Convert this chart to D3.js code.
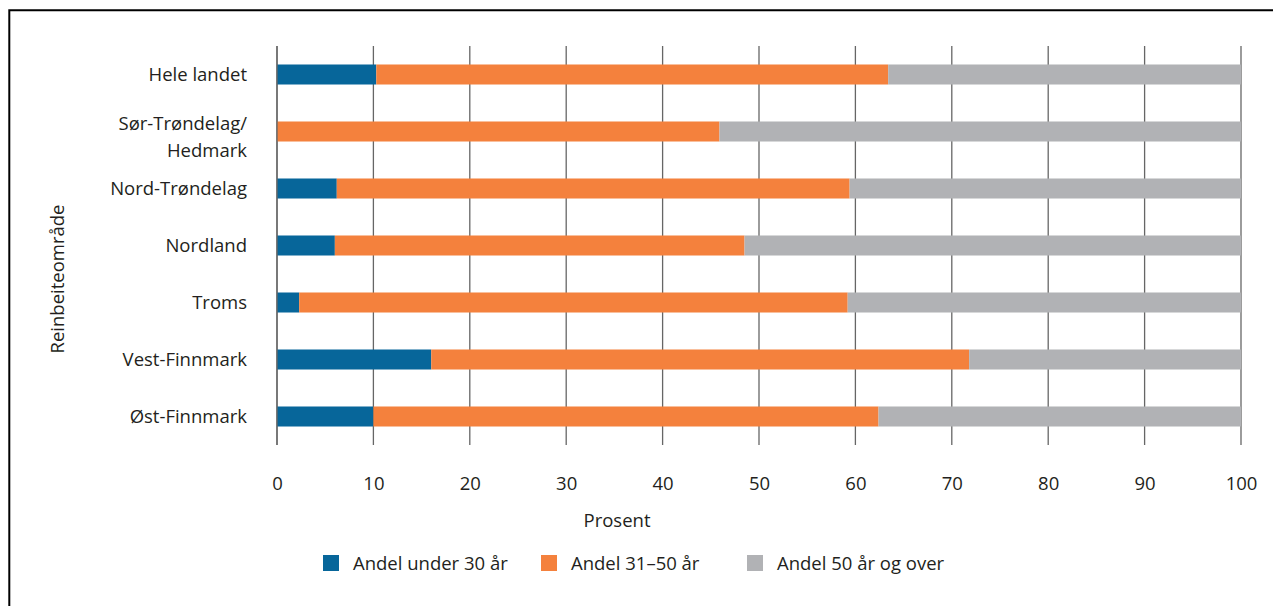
<!DOCTYPE html>
<html>
<head>
<meta charset="utf-8">
<script src="https://cdn.jsdelivr.net/npm/d3@7"></script>
<style>
  body { margin: 0; background: #fff; }
  text { font-family: "Open Sans", "Noto Sans", sans-serif; fill: #231f20; }
</style>
</head>
<body>
<svg id="chart"></svg>
<script>
var categories = ["Hele landet", "Sør-Trøndelag/\nHedmark", "Nord-Trøndelag", "Nordland", "Troms", "Vest-Finnmark", "Øst-Finnmark"];
var seriesNames = ["Andel under 30 år", "Andel 31–50 år", "Andel 50 år og over"];
var under30 = [10.3, 0, 6.2, 6.0, 2.3, 16.0, 10.0];
var mid31to50 = [53.1, 45.9, 53.2, 42.5, 56.9, 55.8, 52.4];
var over50 = [36.6, 54.1, 40.6, 51.5, 40.8, 28.2, 37.6];
var xTicks = [0, 10, 20, 30, 40, 50, 60, 70, 80, 90, 100];
var colors = ["#07669a", "#f4813d", "#b1b2b5"];

var svgWidth = 1273, svgHeight = 606;
var plotLeft = 277, plotRight = 1241, plotTop = 46, plotBottom = 445;
var fontSize = "18.5px";

var svg = d3.select("#chart")
    .attr("width", svgWidth)
    .attr("height", svgHeight);

// frame (only top and left edges are visible)
svg.append("path")
    .attr("d", "M9.3," + svgHeight + "V10.3H" + svgWidth)
    .attr("fill", "none")
    .attr("stroke", "#000")
    .attr("stroke-width", 2);

var rows = categories.map(function(c, i) {
    return { cat: c, values: [under30[i], mid31to50[i], over50[i]] };
});

var xScale = d3.scaleLinear().domain([0, 100]).range([plotLeft, plotRight]);
var yScale = d3.scaleBand()
    .domain(categories)
    .range([plotTop, plotBottom])
    .paddingInner(0.649)
    .paddingOuter(0.3245);

// gridlines with tick marks below the plot
var grid = svg.append("g").attr("class", "grid");
grid.selectAll("line")
    .data(xTicks)
    .enter()
    .append("line")
    .attr("x1", function(d){ return xScale(d); })
    .attr("x2", function(d){ return xScale(d); })
    .attr("y1", plotTop)
    .attr("y2", plotBottom)
    .attr("stroke", "#666")
    .attr("stroke-width", 1.3);

// x axis labels
var xAxis = d3.axisBottom(xScale).tickValues(xTicks).tickSize(0).tickPadding(0);
var gx = svg.append("g")
    .attr("transform", "translate(0," + 490 + ")")
    .call(xAxis);
gx.select(".domain").remove();
gx.selectAll("text")
    .attr("dy", 0)
    .attr("font-size", fontSize)
    .style("font-family", "'Open Sans', sans-serif")
    .attr("fill", "#231f20");

// stacked bars
var barGroups = svg.selectAll("g.row")
    .data(rows)
    .enter()
    .append("g")
    .attr("class", "row");

barGroups.selectAll("rect")
    .data(function(d) {
        var acc = 0;
        return d.values.map(function(v, j) {
            var seg = { cat: d.cat, x0: acc, x1: acc + v, k: j };
            acc += v;
            return seg;
        });
    })
    .enter()
    .append("rect")
    .attr("x", function(d){ return xScale(d.x0); })
    .attr("width", function(d){ return xScale(d.x1) - xScale(d.x0); })
    .attr("y", function(d){ return yScale(d.cat); })
    .attr("height", yScale.bandwidth())
    .attr("fill", function(d){ return colors[d.k]; });

// y axis line drawn on top
svg.append("line")
    .attr("x1", xScale(0)).attr("x2", xScale(0))
    .attr("y1", plotTop).attr("y2", plotBottom)
    .attr("stroke", "#666")
    .attr("stroke-width", 1.3);

// category labels
var yLabels = svg.append("g");
categories.forEach(function(c) {
    var lines = c.split("\n");
    var cy = yScale(c) + yScale.bandwidth() / 2;
    var shift = lines.length > 1 ? 5 : 0;
    var t = yLabels.append("text")
        .attr("text-anchor", "end")
        .attr("font-size", fontSize);
    lines.forEach(function(l, i) {
        t.append("tspan")
            .attr("x", 247)
            .attr("y", cy + 6.5 + shift + (i - (lines.length - 1) / 2) * 27)
            .text(l);
    });
});

// axis titles
svg.append("text")
    .attr("x", 617)
    .attr("y", 527)
    .attr("text-anchor", "middle")
    .attr("font-size", fontSize)
    .text("Prosent");

svg.append("text")
    .attr("transform", "translate(64,279) rotate(-90)")
    .attr("text-anchor", "middle")
    .attr("font-size", fontSize)
    .text("Reinbeiteområde");

// legend
var legendX = [323, 541, 747];
var legend = svg.selectAll("g.legend")
    .data(seriesNames)
    .enter()
    .append("g")
    .attr("class", "legend")
    .attr("transform", function(d, i){ return "translate(" + legendX[i] + ",555)"; });
legend.append("rect")
    .attr("width", 16)
    .attr("height", 16)
    .attr("fill", function(d, i){ return colors[i]; });
legend.append("text")
    .attr("x", 30)
    .attr("y", 14.5)
    .attr("font-size", fontSize)
    .text(function(d){ return d; });
</script>
</body>
</html>
